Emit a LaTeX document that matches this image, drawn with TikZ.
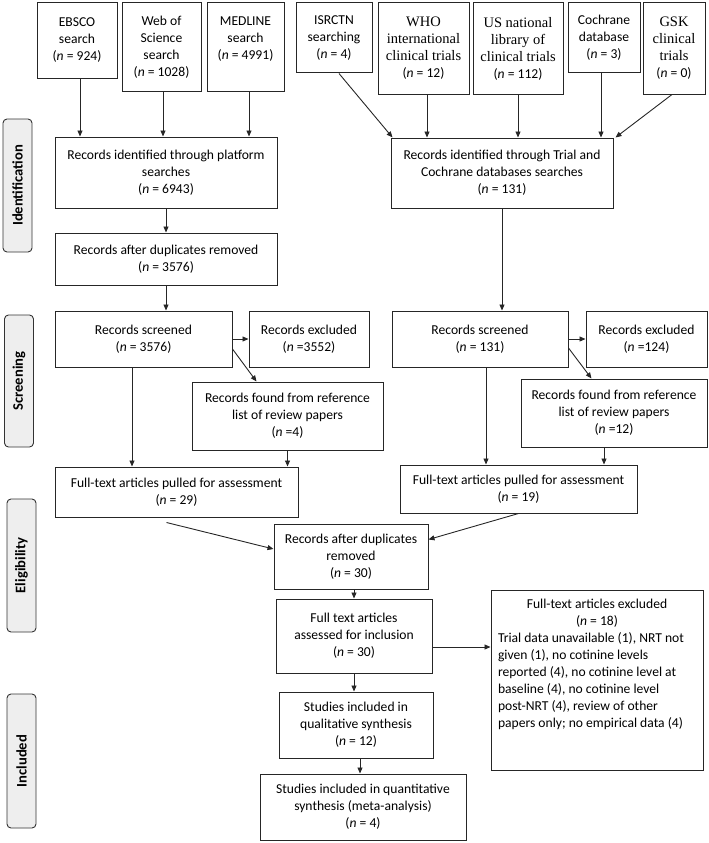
\documentclass[tikz,border=0pt]{standalone}
\usepackage{fontspec}
\setmainfont{Carlito}
\newfontfamily\tnrfont{Liberation Serif}
\usetikzlibrary{arrows.meta}
\newcommand\myfs{\fontsize{13.6}{17}\selectfont}
\newcommand\mysidefs{\fontsize{14.6}{17}\selectfont}
\newcommand\tr[1]{{\tnrfont\fontsize{14.5}{16}\selectfont #1}}
\newcommand\nn{\textit{n}}
\begin{document}
\begin{tikzpicture}[x=1pt,y=-1pt,
  box/.style={draw=black!85, line width=1pt, align=center, inner sep=0pt, font=\myfs},
  side/.style={draw=black!80, line width=0.9pt, rounded corners=4pt, fill=gray!13, rotate=90, font=\mysidefs\bfseries, inner sep=0pt},
  arr/.style={draw=black!85, line width=0.9pt, -{Triangle[length=6pt,width=5pt]}}]
\useasboundingbox (0,0) rectangle (709,843);

% top row
\node[box, minimum width=80, minimum height=75] (ebsco) at (77,40.5) {EBSCO\\search\\(\nn{} = 924)};
\node[box, minimum width=79, minimum height=88] (wos) at (161.5,47) {Web of\\Science\\search\\(\nn{} = 1028)};
\node[box, minimum width=77, minimum height=88] (medline) at (245.5,47) {MEDLINE\\search\\(\nn{} = 4991)\\\mbox{}};
\node[box, minimum width=76, minimum height=70] (isrctn) at (334,38) {ISRCTN\\searching\\(\nn{} = 4)};
\node[box, minimum width=91, minimum height=91] (who) at (423.5,48.5) {\tr{WHO}\\\tr{international}\\\tr{clinical trials}\\(\nn{} = 12)};
\node[box, minimum width=90, minimum height=91] (usnl) at (518,48.5) {\tr{US national}\\\tr{library of}\\\tr{clinical trials}\\(\nn{} = 112)};
\node[box, minimum width=72, minimum height=70] (cochrane) at (604,38) {Cochrane\\database\\(\nn{} = 3)};
\node[box, minimum width=62, minimum height=91] (gsk) at (674,48.5) {\tr{GSK}\\\tr{clinical}\\\tr{trials}\\(\nn{} = 0)};

% identification
\node[box, minimum width=222, minimum height=71] (recplat) at (166,172.5) {Records identified through platform\\searches\\(\nn{} = 6943)};
\node[box, minimum width=222, minimum height=70] (rectrial) at (502,173) {Records identified through Trial and\\Cochrane databases searches\\(\nn{} = 131)};
\node[box, minimum width=222, minimum height=52] (dupL) at (166,259) {Records after duplicates removed\\(\nn{} = 3576)};

% screening left
\node[box, minimum width=177, minimum height=56] (scrL) at (143.5,339) {Records screened\\(\nn{} = 3576)};
\node[box, minimum width=120, minimum height=56] (exL) at (309,339) {Records excluded\\(\nn{} =3552)};
\node[box, minimum width=191, minimum height=68] (foundL) at (287.5,416) {Records found from reference\\list of review papers\\(\nn{} =4)};
\node[box, minimum width=243, minimum height=50] (ftL) at (176.5,492) {Full-text articles pulled for assessment\\(\nn{} = 29)};

% screening right
\node[box, minimum width=176, minimum height=56] (scrR) at (480,339) {Records screened\\(\nn{} = 131)};
\node[box, minimum width=121, minimum height=56] (exR) at (646.5,339) {Records excluded\\(\nn{} =124)};
\node[box, minimum width=186, minimum height=68] (foundR) at (614,413) {Records found from reference\\list of review papers\\(\nn{} =12)};
\node[box, minimum width=237, minimum height=48] (ftR) at (518.5,489) {Full-text articles pulled for assessment\\(\nn{} = 19)};

% eligibility / included
\node[box, minimum width=154, minimum height=65] (dup30) at (351,556.5) {Records after duplicates\\removed\\(\nn{} = 30)};
\node[box, minimum width=156, minimum height=74] (assess) at (354,636) {Full text articles\\assessed for inclusion\\(\nn{} = 30)};
\node[box, minimum width=154, minimum height=66] (qual) at (356,725) {Studies included in\\qualitative synthesis\\(\nn{} = 12)};
\node[box, minimum width=206, minimum height=66] (quant) at (363,807) {Studies included in quantitative\\synthesis (meta-analysis)\\(\nn{} = 4)};
\node[box, minimum width=212, minimum height=180] (exft) at (597,680) {\parbox[c][162pt][t]{198pt}{\myfs{\centering Full-text articles excluded\\(\nn{} = 18)\par}\raggedright Trial data unavailable (1), NRT not\\given (1), no cotinine levels\\reported (4), no cotinine level at\\baseline (4), no cotinine level\\post-NRT (4), review of other\\papers only; no empirical data (4)}};

% side labels
\node[side, minimum width=133, minimum height=29] (sid) at (17.5,185.5) {Identification};
\node[side, minimum width=132, minimum height=29] (sscr) at (19,381) {Screening};
\node[side, minimum width=133, minimum height=29] (selig) at (21.5,565.5) {Eligibility};
\node[side, minimum width=134, minimum height=29] (sinc) at (21.5,761) {Included};

% arrows top
\draw[arr] ([xshift=3pt]ebsco.south) -- ([xshift=3pt]ebsco.south |- recplat.north);
\draw[arr] ([xshift=1.5pt]wos.south) -- ([xshift=1.5pt]wos.south |- recplat.north);
\draw[arr] ([xshift=3.5pt]medline.south) -- ([xshift=3.5pt]medline.south |- recplat.north);
\draw[arr] ([xshift=5pt]isrctn.south) -- ([xshift=2pt]rectrial.north west);
\draw[arr] ([xshift=3.5pt]who.south) -- ([xshift=3.5pt]who.south |- rectrial.north);
\draw[arr] (usnl.south) -- (usnl.south |- rectrial.north);
\draw[arr] ([xshift=-3pt]cochrane.south) -- ([xshift=-3pt]cochrane.south |- rectrial.north);
\draw[arr] ([xshift=-2pt]gsk.south) -- ([xshift=2pt]rectrial.north east);

% left column
\draw[arr] (recplat.south) -- (dupL.north);
\draw[arr] (dupL.south) -- (dupL.south |- scrL.north);
\draw[arr] (scrL.east) -- (exL.west);
\draw[arr] ([yshift=-10pt]scrL.east) -- ([xshift=65pt]foundL.north west);
\draw[arr] ([xshift=-11.5pt]scrL.south) -- ([xshift=-11.5pt]scrL.south |- ftL.north);
\draw[arr] (foundL.south) -- (foundL.south |- ftL.north);
\draw[arr] ([xshift=-10pt,yshift=-5pt]ftL.south) -- ([yshift=7.5pt]dup30.west);

% right column
\draw[arr] (rectrial.south) -- (rectrial.south |- scrR.north);
\draw[arr] (scrR.east) -- (scrR.east -| exR.west);
\draw[arr] ([yshift=-9pt]scrR.east) -- ([xshift=71pt]foundR.north west);
\draw[arr] ([xshift=6pt]scrR.south) -- ([xshift=6pt]scrR.south |- ftR.north);
\draw[arr] ([xshift=-10pt]foundR.south) -- ([xshift=-10pt]foundR.south |- ftR.north);
\draw[arr] (ftR.south) -- ([yshift=17pt]dup30.east);

% bottom
\draw[arr] (dup30.south -| assess.north) -- (assess.north);
\draw[arr] (assess.south) -- (assess.south |- qual.north);
\draw[arr] ([xshift=4pt]qual.south) -- ([xshift=4pt]qual.south |- quant.north);
\draw[arr] ([yshift=-11pt]assess.east) -- ([yshift=-11pt]assess.east -| exft.west);
\end{tikzpicture}
\end{document}
